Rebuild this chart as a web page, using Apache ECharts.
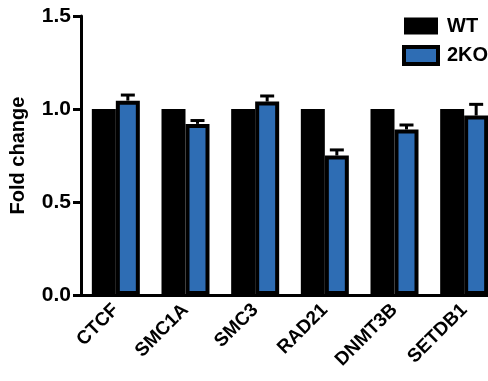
<!DOCTYPE html>
<html><head><meta charset="utf-8">
<script src="https://cdn.jsdelivr.net/npm/echarts@6/dist/echarts.min.js"></script>
<style>html,body{margin:0;padding:0;background:#fff}#c{width:488px;height:381px}</style>
</head><body><div id="c"></div>
<script>
const categories = ['CTCF','SMC1A','SMC3','RAD21','DNMT3B','SETDB1'];
const wtValues = [1, 1, 1, 1, 1, 1];
const koValues = [1.045, 0.92, 1.04, 0.75, 0.89, 0.965];
const koErrors = [0.03, 0.018, 0.03, 0.03, 0.024, 0.06];
const yTicks = [0, 0.5, 1.0, 1.5];

const FONT = "'Liberation Sans', Arial, sans-serif";
const BAR_W = 24;
const chart = echarts.init(document.getElementById('c'), null, {renderer:'canvas'});
chart.setOption({
  animation:false,
  backgroundColor:'#fff',
  grid:{left:81, width:418, top:16, bottom:86, containLabel:false, outerBoundsMode:'none'},
  legend:{
    left:397, top:11, orient:'vertical', itemWidth:34, itemHeight:17, itemGap:9, icon:'rect',
    textStyle:{fontFamily:FONT, fontWeight:'bold', fontSize:20, color:'#000', padding:[0,0,0,4]},
    data:[
      {name:'WT', itemStyle:{color:'#000', borderWidth:0}},
      {name:'2KO', itemStyle:{color:'#2e6db4', borderColor:'#000', borderWidth:4}}
    ]
  },
  xAxis:{
    type:'category', data:categories, boundaryGap:true,
    axisLine:{lineStyle:{color:'#000', width:3}},
    axisTick:{alignWithLabel:true, length:9, lineStyle:{color:'#000', width:3}},
    axisLabel:{rotate:45, margin:12, fontFamily:FONT, fontWeight:'bold', fontSize:19, color:'#000', interval:0}
  },
  yAxis:{
    type:'value', min:yTicks[0], max:yTicks[yTicks.length-1], interval:0.5,
    name:'Fold change', nameLocation:'middle', nameGap:53, nameRotate:90,
    nameTextStyle:{fontFamily:FONT, fontWeight:'bold', fontSize:20, color:'#000'},
    axisLine:{show:true, lineStyle:{color:'#000', width:3}},
    axisTick:{show:true, length:8, lineStyle:{color:'#000', width:3}},
    splitLine:{show:false},
    axisLabel:{margin:10, fontFamily:FONT, fontWeight:'bold', fontSize:21, color:'#000', formatter:v=>v.toFixed(1)}
  },
  series:[
    {name:'WT', type:'bar', data:wtValues, barWidth:BAR_W, barGap:'0%', itemStyle:{color:'#000'}},
    {name:'2KO', type:'bar', data:koValues, barWidth:BAR_W, itemStyle:{color:'#2e6db4', borderColor:'#000', borderWidth:4}},
    {name:'err', type:'custom', z:5,
      data:koValues.map((v,i)=>[i, v, koErrors[i]]),
      renderItem:function(params, api){
        const i = api.value(0), v = api.value(1), e = api.value(2);
        const p0 = api.coord([i, v]);
        const p1 = api.coord([i, v+e]);
        const x = p0[0] + BAR_W/2;
        const style = {stroke:'#000', lineWidth:3};
        return {type:'group', children:[
          {type:'line', shape:{x1:x, y1:p0[1], x2:x, y2:p1[1]}, style:style},
          {type:'line', shape:{x1:x-7, y1:p1[1], x2:x+7, y2:p1[1]}, style:style}
        ]};
      }
    }
  ]
});
</script></body></html>
